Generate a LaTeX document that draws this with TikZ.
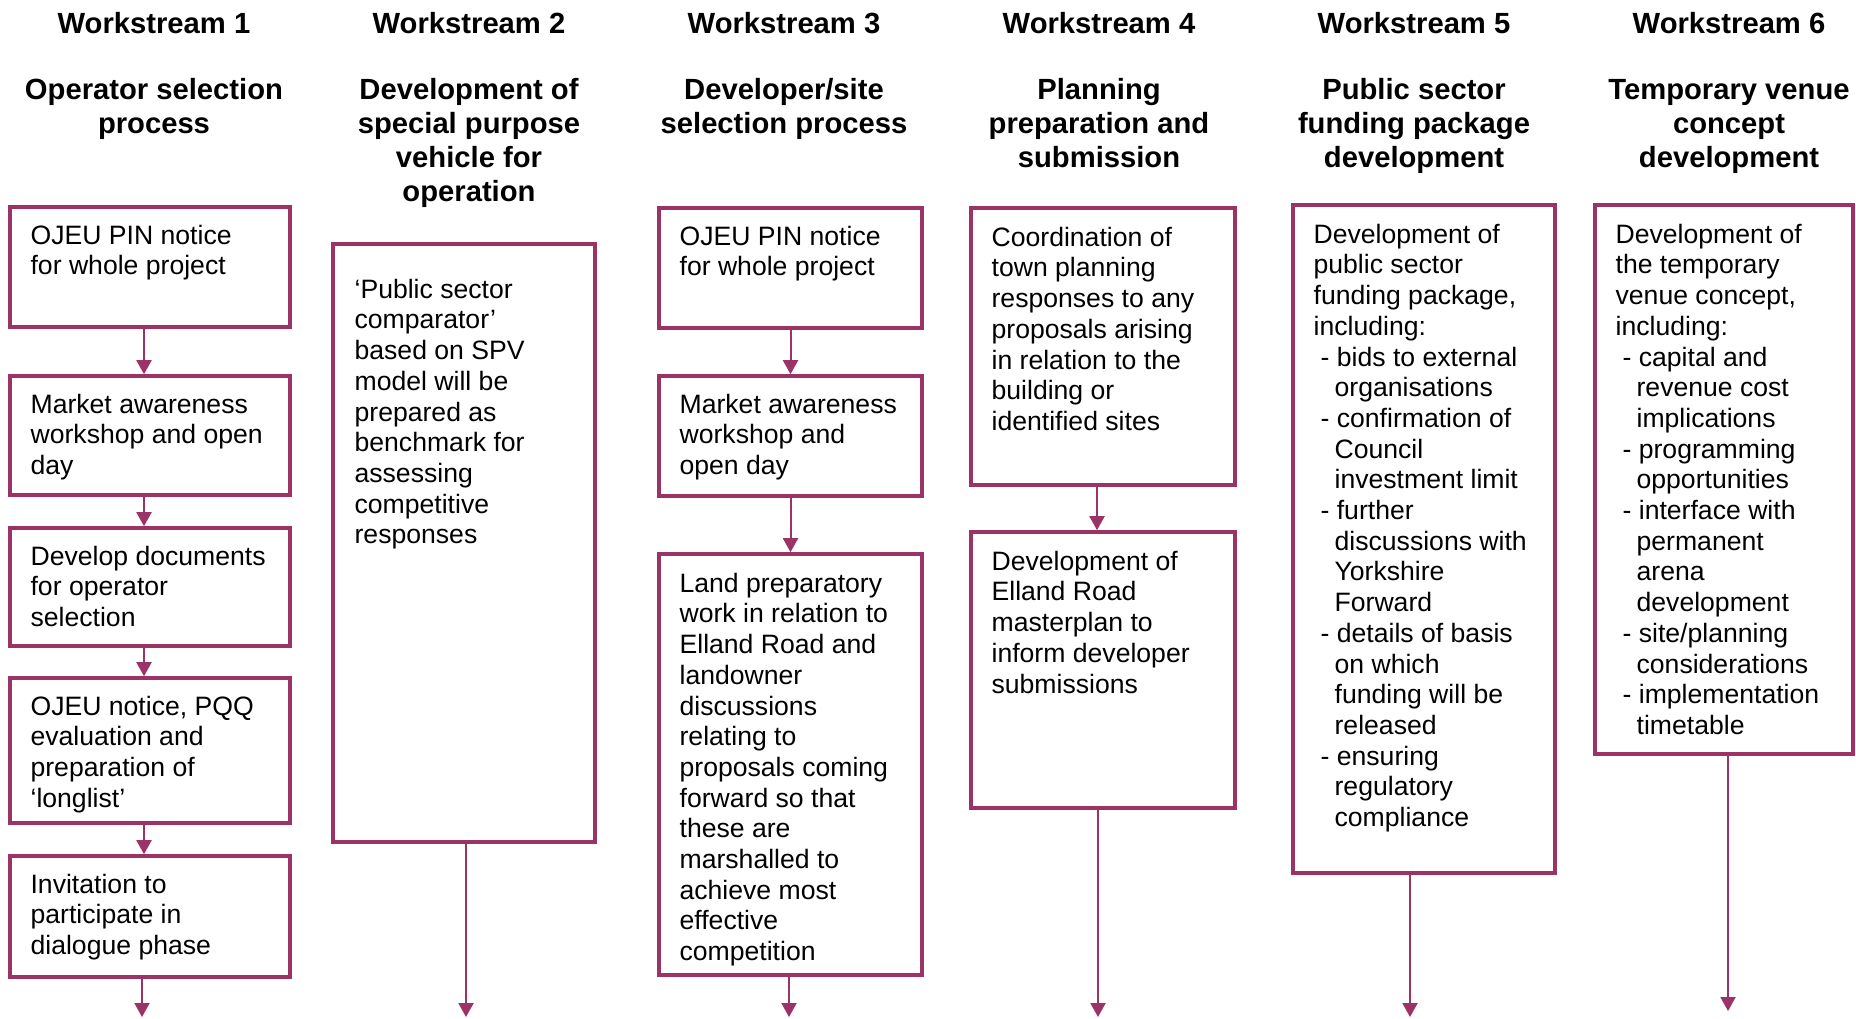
\documentclass[tikz,border=0pt]{standalone}
\usepackage{fontspec}
\setmainfont{Liberation Sans}
\usetikzlibrary{arrows.meta,fit,calc}
\definecolor{plum}{HTML}{9C3366}
% top-aligned text blocks: the first line's baseline is the node's base
\newcommand\lefttext[1]{\parbox[t]{150pt}{\raggedright #1}}
\newcommand\midtext[1]{\parbox[t]{160pt}{\centering #1}}
\newcommand\dash{\hspace*{3.5pt}- }
\newcommand\cont{\hspace*{10.5pt}}
\begin{document}
\begin{tikzpicture}[x=0.5pt,y=-0.5pt,
  box/.style={draw=plum, line width=1.8pt, inner sep=0pt},
  body/.style={anchor=base west, inner sep=0pt,
    font=\fontsize{13.3pt}{15.35pt}\selectfont},
  head/.style={anchor=base, inner sep=0pt,
    font=\bfseries\fontsize{14.6pt}{17pt}\selectfont},
  arr/.style={draw=plum, line width=1pt, -{Triangle[width=7.5pt,length=7pt]}}
]
\useasboundingbox (0,0) rectangle (1856,1018);

% column headings
\node[head] (ws1) at (154,33) {Workstream 1};
\node[head] (ws2) at (469,33) {Workstream 2};
\node[head] (ws3) at (784,33) {Workstream 3};
\node[head] (ws4) at (1099,33) {Workstream 4};
\node[head] (ws5) at (1414,33) {Workstream 5};
\node[head] (ws6) at (1729,33) {Workstream 6};
\node[head] (title1) at (154,99) {\midtext{Operator selection\\process}};
\node[head] (title2) at (469,99) {\midtext{Development of\\special purpose\\vehicle for\\operation}};
\node[head] (title3) at (784,99) {\midtext{Developer/site\\selection process}};
\node[head] (title4) at (1099,99) {\midtext{Planning\\preparation and\\submission}};
\node[head] (title5) at (1414,99) {\midtext{Public sector\\funding package\\development}};
\node[head] (title6) at (1729,99) {\midtext{Temporary venue\\concept\\development}};

% Workstream 1
\node[box, fit={(10,207) (290,327)}] (a1) {};
\node[box, fit={(10,376) (290,495)}] (a2) {};
\node[box, fit={(10,528) (290,646)}] (a3) {};
\node[box, fit={(10,678) (290,823)}] (a4) {};
\node[box, fit={(10,856) (290,977)}] (a5) {};
\node[body] (a1t) at ([shift={(22,39)}]a1.north west) {\lefttext{OJEU PIN notice\\for whole project}};
\node[body] (a2t) at ([shift={(22,39)}]a2.north west) {\lefttext{Market awareness\\workshop and open\\day}};
\node[body] (a3t) at ([shift={(22,39)}]a3.north west) {\lefttext{Develop documents\\for operator\\selection}};
\node[body] (a4t) at ([shift={(22,39)}]a4.north west) {\lefttext{OJEU notice, PQQ\\evaluation and\\preparation of\\‘longlist’}};
\node[body] (a5t) at ([shift={(22,39)}]a5.north west) {\lefttext{Invitation to\\participate in\\dialogue phase}};
\draw[arr] ([xshift=-3pt]a1.south) -- ([xshift=-3pt]a2.north);
\draw[arr] ([xshift=-3pt]a2.south) -- ([xshift=-3pt]a3.north);
\draw[arr] ([xshift=-3pt]a3.south) -- ([xshift=-3pt]a4.north);
\draw[arr] ([xshift=-3pt]a4.south) -- ([xshift=-3pt]a5.north);
\coordinate (aend) at (142,1017);
\draw[arr] (a5.south -| aend) -- (aend);

% Workstream 2
\node[box, fit={(333,244) (595,842)}] (b1) {};
\node[body] (b1t) at ([shift={(23,56)}]b1.north west) {\lefttext{‘Public sector\\comparator’\\based on SPV\\model will be\\prepared as\\benchmark for\\assessing\\competitive\\responses}};
\coordinate (bend) at (466,1017);
\draw[arr] (b1.south -| bend) -- (bend);

% Workstream 3
\node[box, fit={(659,208) (922,328)}] (c1) {};
\node[box, fit={(659,376) (922,496)}] (c2) {};
\node[box, fit={(659,554) (922,975)}] (c3) {};
\node[body] (c1t) at ([shift={(22,39)}]c1.north west) {\lefttext{OJEU PIN notice\\for whole project}};
\node[body] (c2t) at ([shift={(22,39)}]c2.north west) {\lefttext{Market awareness\\workshop and\\open day}};
\node[body] (c3t) at ([shift={(22,40)}]c3.north west) {\lefttext{Land preparatory\\work in relation to\\Elland Road and\\landowner\\discussions\\relating to\\proposals coming\\forward so that\\these are\\marshalled to\\achieve most\\effective\\competition}};
\draw[arr] (c1) -- (c2);
\draw[arr] (c2) -- (c3);
\coordinate (cend) at (789,1017);
\draw[arr] (c3.south -| cend) -- (cend);

% Workstream 4
\node[box, fit={(971,208) (1235,485)}] (d1) {};
\node[box, fit={(971,532) (1235,808)}] (d2) {};
\node[body] (d1t) at ([shift={(22,40)}]d1.north west) {\lefttext{Coordination of\\town planning\\responses to any\\proposals arising\\in relation to the\\building or\\identified sites}};
\node[body] (d2t) at ([shift={(22,40)}]d2.north west) {\lefttext{Development of\\Elland Road\\masterplan to\\inform developer\\submissions}};
\draw[arr] ([xshift=-3pt]d1.south) -- ([xshift=-3pt]d2.north);
\coordinate (dend) at (1098,1017);
\draw[arr] (d2.south -| dend) -- (dend);

% Workstream 5
\node[box, fit={(1293,205) (1555,873)}] (e1) {};
\node[body] (e1t) at ([shift={(22,40)}]e1.north west) {\lefttext{Development of\\public sector\\funding package,\\including:\\
\dash bids to external\\\cont organisations\\
\dash confirmation of\\\cont Council\\\cont investment limit\\
\dash further\\\cont discussions with\\\cont Yorkshire\\\cont Forward\\
\dash details of basis\\\cont on which\\\cont funding will be\\\cont released\\
\dash ensuring\\\cont regulatory\\\cont compliance}};
\coordinate (eend) at (1410,1017);
\draw[arr] (e1.south -| eend) -- (eend);

% Workstream 6
\node[box, fit={(1595,205) (1853,754)}] (f1) {};
\node[body] (f1t) at ([shift={(22,40)}]f1.north west) {\lefttext{Development of\\the temporary\\venue concept,\\including:\\
\dash capital and\\\cont revenue cost\\\cont implications\\
\dash programming\\\cont opportunities\\
\dash interface with\\\cont permanent\\\cont arena\\\cont development\\
\dash site/planning\\\cont considerations\\
\dash implementation\\\cont timetable}};
\coordinate (fend) at (1728,1011);
\draw[arr] (f1.south -| fend) -- (fend);
\end{tikzpicture}
\end{document}
